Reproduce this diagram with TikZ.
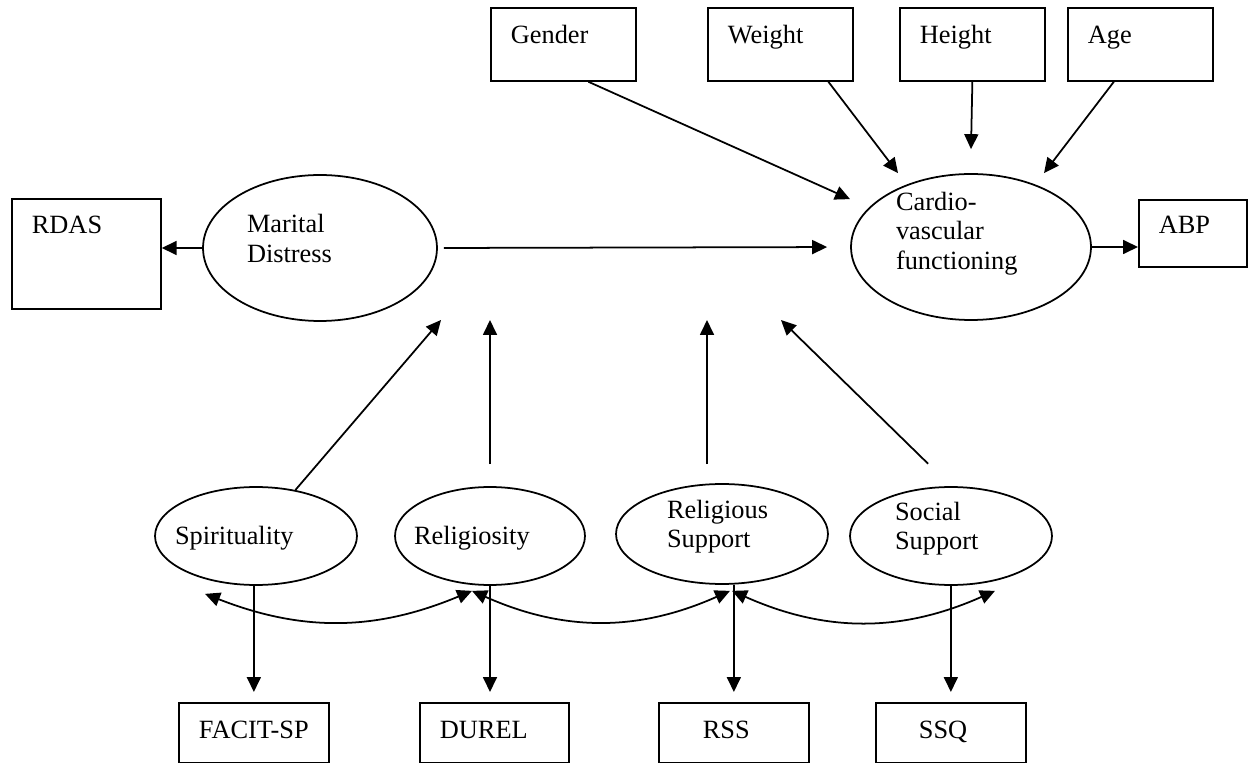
\documentclass[tikz,border=0pt]{standalone}
\usepackage{fontspec}
\setmainfont{Liberation Serif}
\usetikzlibrary{arrows.meta,shapes.geometric}

\begin{document}
\begin{tikzpicture}[x=0.02cm,y=-0.02cm,line width=1pt,>={Triangle[length=0.3cm,width=0.28cm]}]

\tikzstyle{block} = [rectangle, draw, anchor=north west, inner xsep=0.4cm, inner ysep=0pt, align=left, font=\fsize]
\tikzstyle{ovalblock} = [ellipse, draw, inner xsep=-0.2cm, inner ysep=-0.15cm, align=left, text height=0.4cm, font=\fsize]

\def \fsize{\fontsize{15}{17}\selectfont}

\useasboundingbox (0,0) rectangle (1248,763);

%Covariates on top
\node[block, text width=2.1cm, text height=0.72cm, text depth=0.74cm](gender) at (490,7){Gender};
\node[block, text width=2.1cm, text height=0.72cm, text depth=0.74cm](weight) at (707,7){Weight};
\node[block, text width=2.1cm, text height=0.72cm, text depth=0.74cm](height) at (899,7){Height};
\node[block, text width=2.1cm, text height=0.72cm, text depth=0.74cm](age) at (1067,7){Age};

%Marital distress and outcome
\node[block, text width=2.18cm, text height=0.7cm, text depth=1.5cm](rdas) at (11,198){RDAS};
\node[ovalblock, minimum width=4.68cm, minimum height=2.92cm, text width=2.92cm, text depth=1.0cm](marital) at (320,248){Marital\\Distress};
\node[ovalblock, minimum width=4.8cm, minimum height=2.92cm, text width=3.0cm, text depth=1.88cm](cardio) at (971,247){Cardio-\\vascular\\functioning};
\node[block, text width=1.36cm, text height=0.68cm, text depth=0.66cm](abp) at (1138,199){ABP};

%Moderators
\node[ovalblock, minimum width=4.04cm, minimum height=1.96cm, text width=3.24cm, text depth=0.04cm](spirit) at (256,536){Spirituality};
\node[ovalblock, minimum width=3.8cm, minimum height=1.96cm, text width=3.04cm, text depth=0.04cm](relig) at (490,536){Religiosity};
\node[ovalblock, minimum width=4.24cm, minimum height=2.0cm, text width=2.2cm, text depth=1.04cm](relsup) at (722,534){Religious\\Support};
\node[ovalblock, minimum width=4.04cm, minimum height=1.96cm, text width=2.24cm, text depth=1.04cm](social) at (951,536){Social\\Support};

%Measures at the bottom
\node[block, text width=2.2cm, text height=0.72cm, text depth=0.48cm](facit) at (178,702){FACIT-SP};
\node[block, text width=2.18cm, text height=0.72cm, text depth=0.48cm](durel) at (419,702){DUREL};
\node[block, inner xsep=0.88cm, text width=1.24cm, text height=0.72cm, text depth=0.48cm](rss) at (658,702){RSS};
\node[block, inner xsep=0.86cm, text width=1.28cm, text height=0.72cm, text depth=0.48cm](ssq) at (875,702){SSQ};

%Main path
\draw[->] (marital.west) -- (marital.west -| rdas.east);
\draw[->, shorten <=0.12cm, shorten >=0.46cm] (marital.east) -- (cardio.west);
\draw[->] (cardio.east) -- (cardio.east -| abp.west);

%Covariates to cardio
\draw[->] ([xshift=0.5cm]gender.south) -- ([xshift=-2.42cm,yshift=-0.52cm]cardio.north);
\draw[->] ([xshift=0.96cm]weight.south) -- ([xshift=-1.46cm]cardio.north);
\draw[->] (height.south) -- ([yshift=0.48cm]cardio.north);
\draw[->] ([xshift=-0.53cm]age.south) -- ([xshift=1.46cm]cardio.north);

%Moderation arrows
\coordinate (m1) at (441,320);
\coordinate (m2) at (490,320);
\coordinate (m3) at (707,320);
\coordinate (m4) at (781,320);
\draw[->] (spirit) -- (m1);
\draw[->, shorten <=0.44cm] (relig) -- (m2);
\draw[->, shorten <=0.38cm] (relsup.north -| m3) -- (m3);
\draw[->, shorten <=0.64cm] (social.north) -- (m4);

%Indicators
\draw[->, shorten >=0.2cm] (spirit.south -| facit.north) -- (facit.north);
\draw[->, shorten >=0.2cm] (relig.south) -- (relig.south |- durel.north);
\draw[->, shorten >=0.2cm] (relsup.south -| rss.north) -- (rss.north);
\draw[->, shorten >=0.2cm] (social.south -| ssq.north) -- (ssq.north);

%Correlations
\draw[<->] ([xshift=-1.02cm,yshift=-0.16cm]spirit.south) to[bend right=22] ([xshift=-0.36cm,yshift=-0.1cm]relig.south);
\draw[<->] ([xshift=-0.36cm,yshift=-0.1cm]relig.south) to[bend right=24] ([xshift=0.16cm,yshift=-0.12cm]relsup.south);
\draw[<->] ([xshift=0.2cm,yshift=-0.12cm]relsup.south) to[bend right=24] ([xshift=0.88cm,yshift=-0.1cm]social.south);

\end{tikzpicture}
\end{document}
